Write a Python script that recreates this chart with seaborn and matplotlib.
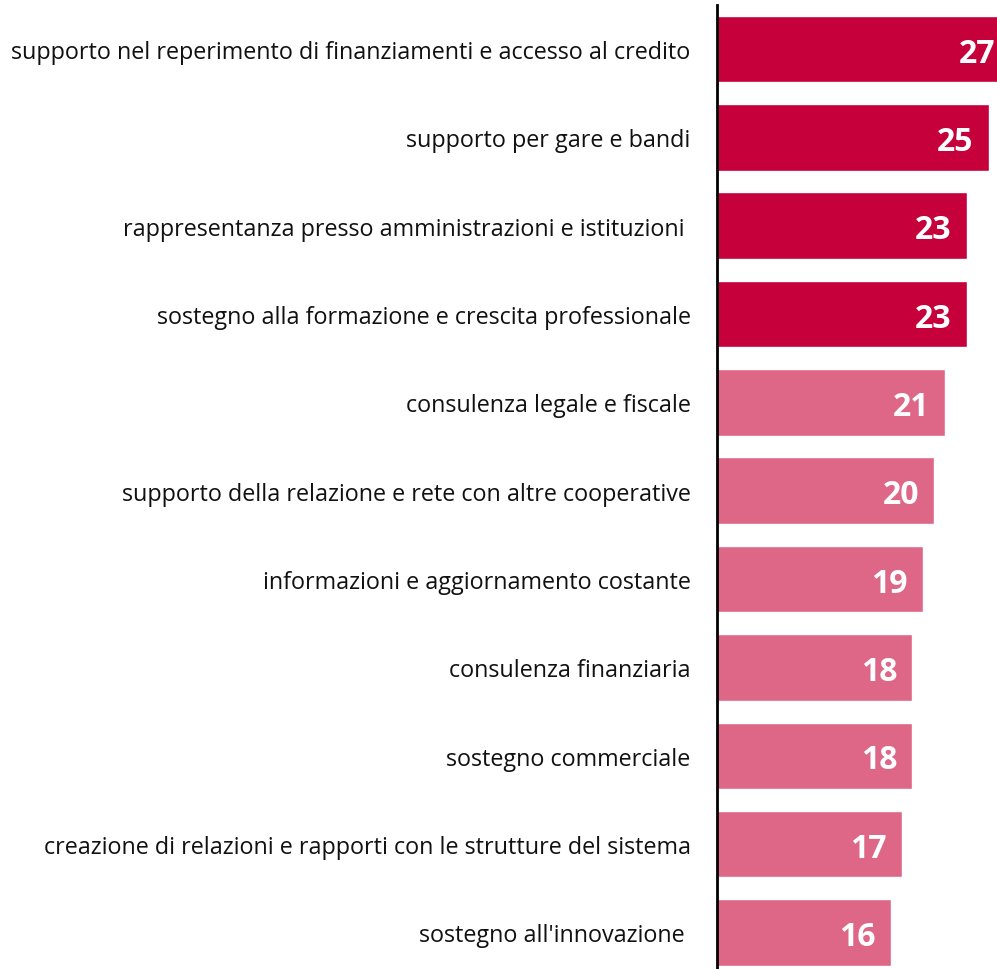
import matplotlib
matplotlib.use("Agg")
import matplotlib.pyplot as plt
import seaborn as sns
import pandas as pd

categories = [
    "supporto nel reperimento di finanziamenti e accesso al credito",
    "supporto per gare e bandi",
    "rappresentanza presso amministrazioni e istituzioni ",
    "sostegno alla formazione e crescita professionale",
    "consulenza legale e fiscale",
    "supporto della relazione e rete con altre cooperative",
    "informazioni e aggiornamento costante",
    "consulenza finanziaria",
    "sostegno commerciale",
    "creazione di relazioni e rapporti con le strutture del sistema",
    "sostegno all'innovazione ",
]
values = [27, 25, 23, 23, 21, 20, 19, 18, 18, 17, 16]
highlight = [True, True, True, True, False, False, False, False, False, False, False]

DARK = "#C6003B"
LIGHT = "#DE6787"

df = pd.DataFrame({"cat": categories, "val": values})
palette = {c: (DARK if h else LIGHT) for c, h in zip(categories, highlight)}

sns.set_style("white")
plt.rcParams["font.family"] = ["Open Sans", "DejaVu Sans"]

W, H = 997, 970
fig = plt.figure(figsize=(W / 100, H / 100), dpi=100)
x0 = 717
px_per_unit = 10.86
top_c, step = 50, 88.35
ax_top = top_c - step / 2
ax_bot = top_c + step * 10.5
ax = fig.add_axes([x0 / W, (H - ax_bot) / H, (W - x0) / W, (ax_bot - ax_top) / H])

sns.barplot(data=df, y="cat", x="val", hue="cat", palette=palette, legend=False,
            orient="h", width=0.753, ax=ax, saturation=1)

ax.set_xlim(0, (W - x0) / px_per_unit)
ax.set_ylim(10.5, -0.5)
ax.set_xlabel("")
ax.set_ylabel("")
ax.set_xticks([])
for s in ["top", "right", "bottom"]:
    ax.spines[s].set_visible(False)
ax.spines["left"].set_color("black")
ax.spines["left"].set_linewidth(2)
ax.tick_params(axis="y", length=0, pad=19, labelsize=16.8)
for lab in ax.get_yticklabels():
    lab.set_color("#111111")

for i, v in enumerate(values):
    ax.annotate(str(v), xy=(v, i), xytext=(-11, -3), textcoords="offset points",
                ha="right", va="center", color="white", fontsize=23,
                fontweight="bold", annotation_clip=False)

fig.savefig("out.png", dpi=100)
